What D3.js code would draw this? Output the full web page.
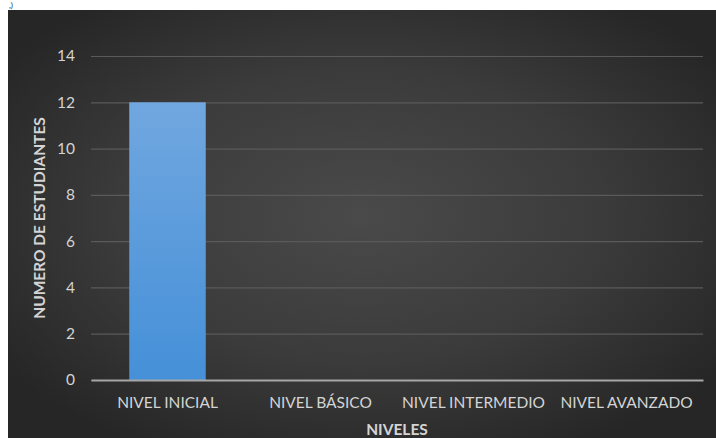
<!DOCTYPE html>
<html>
<head>
<meta charset="utf-8">
<script src="https://cdn.jsdelivr.net/npm/d3@7/dist/d3.min.js"></script>
<style>
  html, body { margin: 0; padding: 0; background: #ffffff; }
  svg { display: block; }
</style>
</head>
<body>
<svg id="chart" width="716" height="438"></svg>
<script>
// Student counts per proficiency level
const categories = ["NIVEL INICIAL", "NIVEL BÁSICO", "NIVEL INTERMEDIO", "NIVEL AVANZADO"];
const students = [12, 0, 0, 0];
const yTicks = [0, 2, 4, 6, 8, 10, 12, 14];
const xTitle = "NIVELES";
const yTitle = "NUMERO DE ESTUDIANTES";

const W = 716, H = 438;
const panel = { x: 8, y: 10, w: W - 8, h: H - 10 };
const plot = { left: 91, right: 703, top: 56, bottom: 380 };

const svg = d3.select("#chart");
const defs = svg.append("defs");

// Dark radial background, lighter toward the middle
const bg = defs.append("radialGradient").attr("id", "bgGrad")
  .attr("cx", "50%").attr("cy", "48%").attr("r", "62%");
bg.append("stop").attr("offset", "0%").attr("stop-color", "#4a4a4a");
bg.append("stop").attr("offset", "55%").attr("stop-color", "#3b3b3b");
bg.append("stop").attr("offset", "100%").attr("stop-color", "#262626");

// Bar fill: lighter top, deeper blue bottom
const barGrad = defs.append("linearGradient").attr("id", "barGrad")
  .attr("x1", "0").attr("y1", "0").attr("x2", "0").attr("y2", "1");
barGrad.append("stop").attr("offset", "0%").attr("stop-color", "#71a7e0");
barGrad.append("stop").attr("offset", "100%").attr("stop-color", "#4590d8");

svg.append("rect")
  .attr("x", panel.x).attr("y", panel.y)
  .attr("width", panel.w).attr("height", panel.h)
  .attr("fill", "url(#bgGrad)");

// Tail of the preceding text line above the chart
svg.append("text")
  .attr("x", 9).attr("y", 7.5)
  .attr("font-family", "Lato, 'Liberation Sans', sans-serif")
  .attr("font-size", 8).attr("fill", "#222")
  .text(",)");

const x = d3.scaleBand()
  .domain(categories)
  .range([plot.left, plot.right])
  .paddingInner(0.5)
  .paddingOuter(0.25);

const y = d3.scaleLinear()
  .domain([0, 14])
  .range([plot.bottom, plot.top]);

const font = "Lato, 'Open Sans', 'Liberation Sans', sans-serif";
const labelSize = 15.5;

// Horizontal gridlines
const yAxis = d3.axisLeft(y)
  .tickValues(yTicks)
  .tickSize(-(plot.right - plot.left))
  .tickPadding(16)
  .tickFormat(d3.format("d"));

const gy = svg.append("g")
  .attr("transform", `translate(${plot.left},0)`)
  .call(yAxis);
gy.select(".domain").remove();
gy.selectAll(".tick line")
  .attr("stroke", "#5a5a5a")
  .attr("stroke-width", 1.2);
gy.selectAll(".tick text")
  .attr("fill", "#d4d4d4")
  .attr("font-family", font)
  .attr("font-size", labelSize);

// Bars
svg.append("g").selectAll("rect")
  .data(categories.map((c, i) => ({ c, v: students[i] })))
  .join("rect")
  .attr("x", d => x(d.c))
  .attr("width", x.bandwidth())
  .attr("y", d => y(d.v))
  .attr("height", d => y(0) - y(d.v))
  .attr("fill", "url(#barGrad)");

// Category axis
const xAxis = d3.axisBottom(x).tickSize(0).tickPadding(17);
const gx = svg.append("g")
  .attr("transform", `translate(0,${plot.bottom})`)
  .call(xAxis);
gx.select(".domain")
  .attr("stroke", "#a6a6a6")
  .attr("stroke-width", 2);
gx.selectAll(".tick text")
  .attr("fill", "#d4d4d4")
  .attr("font-family", font)
  .attr("font-size", labelSize);

// Axis titles
svg.append("text")
  .attr("x", (plot.left + plot.right) / 2)
  .attr("y", 435)
  .attr("text-anchor", "middle")
  .attr("fill", "#d4d4d4")
  .attr("font-family", font)
  .attr("font-weight", "bold")
  .attr("font-size", labelSize)
  .text(xTitle);

svg.append("text")
  .attr("transform", `translate(45,${(plot.top + plot.bottom) / 2}) rotate(-90)`)
  .attr("text-anchor", "middle")
  .attr("fill", "#d4d4d4")
  .attr("font-family", font)
  .attr("font-weight", "bold")
  .attr("font-size", labelSize)
  .text(yTitle);
</script>
</body>
</html>
